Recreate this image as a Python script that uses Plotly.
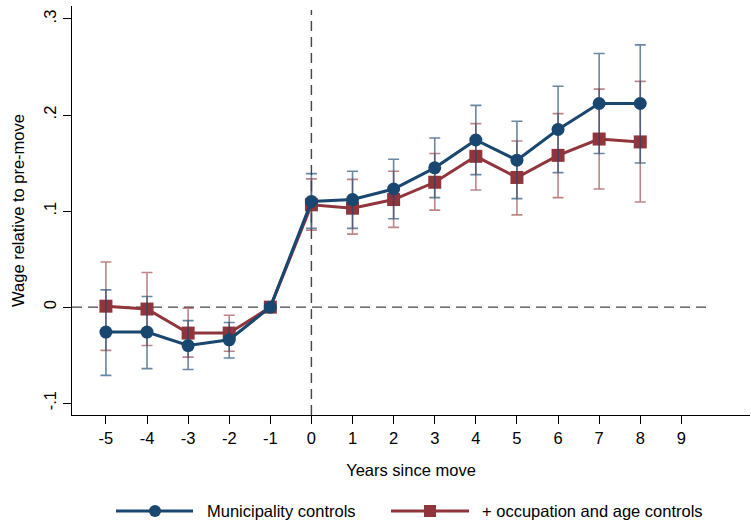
import plotly.graph_objects as go

years = [-5, -4, -3, -2, -1, 0, 1, 2, 3, 4, 5, 6, 7, 8]
muni = [-0.026, -0.026, -0.040, -0.034, 0.0, 0.110, 0.112, 0.123, 0.145, 0.174, 0.153, 0.185, 0.212, 0.212]
muni_hi = [0.018, 0.011, -0.014, -0.016, 0.0, 0.139, 0.1415, 0.154, 0.176, 0.210, 0.1935, 0.230, 0.264, 0.273]
muni_lo = [-0.071, -0.064, -0.065, -0.053, 0.0, 0.082, 0.082, 0.092, 0.114, 0.138, 0.113, 0.140, 0.160, 0.150]
occ = [0.001, -0.002, -0.027, -0.027, 0.0, 0.1065, 0.103, 0.112, 0.130, 0.157, 0.135, 0.158, 0.175, 0.172]
occ_hi = [0.047, 0.036, -0.001, -0.0085, 0.0, 0.1335, 0.133, 0.1415, 0.160, 0.191, 0.173, 0.2015, 0.227, 0.235]
occ_lo = [-0.045, -0.040, -0.052, -0.046, 0.0, 0.080, 0.076, 0.083, 0.101, 0.122, 0.096, 0.114, 0.123, 0.1095]

x_ticks = [-5, -4, -3, -2, -1, 0, 1, 2, 3, 4, 5, 6, 7, 8, 9]
x_ticklabels = ["-5", "-4", "-3", "-2", "-1", "0", "1", "2", "3", "4", "5", "6", "7", "8", "9"]
y_ticks = [-0.1, 0, 0.1, 0.2, 0.3]
y_ticklabels = ["-.1", "0", ".1", ".2", ".3"]
series_names = ["Municipality controls", "+ occupation and age controls"]

BLUE = "#1a476f"
RED = "#90353b"
FONT = "Liberation Sans"
FS = 16.5

fig = go.Figure()

fig.add_trace(go.Scatter(
    x=years, y=occ, mode="lines+markers", name=series_names[1],
    line=dict(color=RED, width=3),
    marker=dict(symbol="square", size=13, color=RED),
    error_y=dict(type="data", symmetric=False,
                 array=[h - v for h, v in zip(occ_hi, occ)],
                 arrayminus=[v - l for v, l in zip(occ, occ_lo)],
                 color="rgba(144,53,59,0.6)", thickness=1.6, width=5.5),
    showlegend=False,
))
fig.add_trace(go.Scatter(
    x=years, y=muni, mode="lines+markers", name=series_names[0],
    line=dict(color=BLUE, width=3),
    marker=dict(symbol="circle", size=13, color=BLUE),
    error_y=dict(type="data", symmetric=False,
                 array=[h - v for h, v in zip(muni_hi, muni)],
                 arrayminus=[v - l for v, l in zip(muni, muni_lo)],
                 color="rgba(26,71,111,0.65)", thickness=1.6, width=5.5),
    showlegend=False,
))

# reference lines
fig.add_shape(type="line", xref="x", yref="y", x0=-5.825, x1=9.7, y0=0, y1=0,
              line=dict(color="#444444", width=1.4, dash="10px,6px"), layer="below")
fig.add_shape(type="line", xref="x", yref="paper", x0=0, x1=0, y0=0, y1=0.99,
              line=dict(color="#444444", width=1.4, dash="10px,6px"), layer="below")

# custom legend (pixel positions converted to paper coordinates)
L, R, T, B = 72, 1, 6, 106
W, H = 751 - L - R, 521 - T - B


def px(xp):
    return (xp - L) / W


def py(yp):
    return (521 - B - yp) / H


ly = py(511)
# blue entry
fig.add_shape(type="line", xref="paper", yref="paper", x0=px(116), x1=px(193), y0=ly, y1=ly,
              line=dict(color=BLUE, width=3))
fig.add_shape(type="circle", xref="paper", yref="paper", xsizemode="pixel", ysizemode="pixel",
              xanchor=px(155), yanchor=ly, x0=-6, x1=6, y0=-6, y1=6,
              fillcolor=BLUE, line=dict(color=BLUE, width=0))
fig.add_annotation(xref="paper", yref="paper", x=px(205), y=ly, text=series_names[0],
                   showarrow=False, xanchor="left", yanchor="middle",
                   font=dict(family=FONT, size=FS, color="#000"))
# red entry
fig.add_shape(type="line", xref="paper", yref="paper", x0=px(391), x1=px(469), y0=ly, y1=ly,
              line=dict(color=RED, width=3))
fig.add_shape(type="rect", xref="paper", yref="paper", xsizemode="pixel", ysizemode="pixel",
              xanchor=px(430), yanchor=ly, x0=-6, x1=6, y0=-6, y1=6,
              fillcolor=RED, line=dict(color=RED, width=0))
fig.add_annotation(xref="paper", yref="paper", x=px(480), y=ly, text=series_names[1],
                   showarrow=False, xanchor="left", yanchor="middle",
                   font=dict(family=FONT, size=FS, color="#000"))

fig.update_layout(
    width=751, height=521,
    margin=dict(l=L, r=R, t=T, b=B),
    paper_bgcolor="white", plot_bgcolor="white",
    font=dict(family=FONT, size=FS, color="#000"),
    showlegend=False,
    xaxis=dict(range=[-5.825, 10.67], tickvals=x_ticks, ticktext=x_ticklabels,
               showline=True, linecolor="#000", linewidth=1.2, ticks="outside", ticklen=8,
               tickcolor="#000", tickwidth=1, showgrid=False, zeroline=False,
               tickfont=dict(size=FS),
               title=dict(text="Years since move", standoff=18, font=dict(size=FS))),
    yaxis=dict(range=[-0.1123, 0.3135], tickvals=y_ticks, ticktext=y_ticklabels,
               showline=True, linecolor="#000", linewidth=1.2, ticks="outside", ticklen=8,
               tickcolor="#000", tickwidth=1, showgrid=False, zeroline=False, tickangle=-90,
               tickfont=dict(size=FS),
               title=dict(text="Wage relative to pre-move", standoff=12, font=dict(size=FS))),
)

fig.write_html("out.html")
